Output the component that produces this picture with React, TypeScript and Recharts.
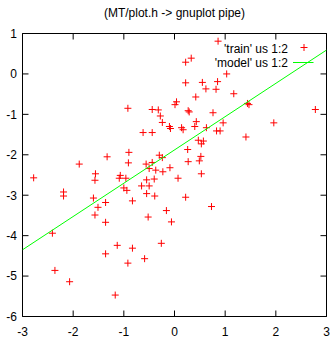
import { Label, Legend, Scatter, ScatterChart, XAxis, YAxis } from "recharts";

// points
const trainX = [
  0.86, 0.22, 0.33, 0.22, 0.55, 0.85, 1.03, 0.62, 0.82, 0.42,
  1.17, 0.04, 0.01, 0.27, 0.29, 0.76, 1.44, 1.47, 2.78, -0.92,
  -0.44, -0.32, -0.28, -0.24, -0.1, -0.08, 0.14, 0.17, 0.43, 0.4,
  0.63, 0.96, 0.83, 0.9, 1.96, -0.62, -0.44, 1.41, 0.47, 0.57,
  0.53, 0.26, 0.52, 0.49, 0.27, 0.53, 0.07, 0.22, 0.73, -0.16,
  -0.06, -0.26, -0.24, -0.3, -0.23, -0.09, -0.56, -0.44, -0.5, -0.37,
  -1.33, -0.9, -0.91, -1.88, -2.78, -1.56, -1.57, -1.07, -1.09, -0.96,
  -0.55, -0.4, -0.65, -0.5, -1.0, -0.94, -0.55, -0.39, -0.83, -1.36,
  -2.19, -2.19, -1.6, -1.51, -1.57, -1.36, -0.52, -2.41, -1.13, -0.83,
  -1.36, -0.59, -0.92, -2.36, -2.07, -1.17,
];
const trainY = [
  0.81, 0.29, 0.39, -0.22, -0.21, -0.19, 0.0, -0.37, -0.38, -0.57,
  -0.49, -0.69, -0.76, -0.91, -0.94, -0.96, -0.73, -0.76, -0.88, -0.85,
  -0.88, -0.89, -1.04, -1.2, -1.3, -1.35, -1.33, -1.38, -1.18, -1.3,
  -1.33, -1.21, -1.41, -1.41, -1.21, -1.45, -1.45, -1.56, -1.64, -1.66,
  -1.73, -1.87, -2.04, -2.15, -2.17, -2.47, -2.58, -3.05, -3.28, -3.38,
  -3.66, -4.19, -2.07, -2.01, -2.42, -2.32, -2.23, -2.19, -2.34, -2.38,
  -2.05, -1.94, -2.2, -2.23, -2.57, -2.47, -2.63, -2.51, -2.58, -2.58,
  -2.62, -2.6, -2.77, -2.77, -2.82, -2.88, -2.96, -3.02, -3.14, -3.18,
  -2.92, -3.02, -3.07, -3.3, -3.49, -3.67, -3.54, -3.94, -4.24, -4.31,
  -4.45, -4.57, -4.68, -4.86, -5.14, -5.47,
];
const modelX = [-3, 3];
const modelY = [-4.35, 0.59];

const xTicks = [-3, -2, -1, 0, 1, 2, 3];
const yTicks = [-6, -5, -4, -3, -2, -1, 0, 1];

const trainData = trainX.map((x, i) => ({ x, y: trainY[i] }));
const modelData = modelX.map((x, i) => ({ x, y: modelY[i] }));

const FONT = '"Liberation Sans", Arial, sans-serif';
const TICK = 6;

function BottomTick({ x, y, payload }: any) {
  return (
    <g>
      <line x1={x} y1={y} x2={x} y2={y - TICK} stroke="#000" />
      <text x={x} y={y + 19.3} textAnchor="middle" fontSize={12} fontFamily={FONT} fill="#000">
        {payload.value}
      </text>
    </g>
  );
}

function TopTick({ x, y }: any) {
  return <line x1={x} y1={y} x2={x} y2={y + TICK} stroke="#000" />;
}

function LeftTick({ x, y, payload }: any) {
  return (
    <g>
      <line x1={x} y1={y} x2={x + TICK} y2={y} stroke="#000" />
      <text x={x - 5.5} y={y + 4.3} textAnchor="end" fontSize={12} fontFamily={FONT} fill="#000">
        {payload.value}
      </text>
    </g>
  );
}

function RightTick({ x, y }: any) {
  return <line x1={x} y1={y} x2={x - TICK} y2={y} stroke="#000" />;
}

function Plus({ cx, cy }: any) {
  return <path d={`M${cx - 3.5},${cy}H${cx + 3.5}M${cx},${cy - 3.5}V${cy + 3.5}`} stroke="#ff0000" fill="none" />;
}

function Nothing() {
  return <g />;
}

function GnuplotKey() {
  return (
    <svg width={333} height={75} style={{ display: "block" }}>
      <text x={288} y={52.5} textAnchor="end" fontSize={12} fontFamily={FONT} fill="#000">
        'train' us 1:2
      </text>
      <path d="M300.5,47.5H307.5M304,44V51" stroke="#ff0000" />
      <text x={288} y={67} textAnchor="end" fontSize={12} fontFamily={FONT} fill="#000">
        'model' us 1:2
      </text>
      <line x1={293} y1={62.5} x2={313.5} y2={62.5} stroke="#00ff00" />
    </svg>
  );
}

export default function App() {
  return (
    <div style={{ position: "absolute", left: 0, top: 0, background: "#fff" }}>
      <ScatterChart width={333} height={339} margin={{ top: 32.5, right: 5.5, bottom: 0, left: 0 }}>
        <XAxis
          xAxisId="b"
          type="number"
          dataKey="x"
          domain={[-3, 3]}
          ticks={xTicks}
          interval={0}
          height={22.5}
          axisLine={{ stroke: "#000" }}
          tickLine={false}
          tickSize={0}
          tickMargin={0}
          tick={BottomTick}
          allowDataOverflow
        />
        <XAxis
          xAxisId="t"
          type="number"
          dataKey="x"
          orientation="top"
          domain={[-3, 3]}
          ticks={xTicks}
          interval={0}
          height={1}
          axisLine={{ stroke: "#000" }}
          tickLine={false}
          tickSize={0}
          tickMargin={0}
          tick={TopTick}
          allowDataOverflow
        >
          <Label
            value="(MT/plot.h -> gnuplot pipe)"
            position="top"
            offset={16}
            fontSize={12}
            fontFamily={FONT}
            fill="#000"
          />
        </XAxis>
        <YAxis
          yAxisId="l"
          type="number"
          dataKey="y"
          domain={[-6, 1]}
          ticks={yTicks}
          interval={0}
          width={22.5}
          axisLine={{ stroke: "#000" }}
          tickLine={false}
          tickSize={0}
          tickMargin={0}
          tick={LeftTick}
          allowDataOverflow
        />
        <YAxis
          yAxisId="r"
          type="number"
          dataKey="y"
          orientation="right"
          domain={[-6, 1]}
          ticks={yTicks}
          interval={0}
          width={1}
          axisLine={{ stroke: "#000" }}
          tickLine={false}
          tickSize={0}
          tickMargin={0}
          tick={RightTick}
          allowDataOverflow
        />
        <Scatter
          name="'train' us 1:2"
          data={trainData}
          xAxisId="b"
          yAxisId="l"
          shape={Plus}
          isAnimationActive={false}
        />
        <Scatter
          name="'model' us 1:2"
          data={modelData}
          xAxisId="t"
          yAxisId="r"
          line={{ stroke: "#00ff00", strokeWidth: 1 }}
          shape={Nothing}
          isAnimationActive={false}
        />
        <Legend
          layout="horizontal"
          verticalAlign="middle"
          align="center"
          wrapperStyle={{ top: 0, left: 0, width: 333, height: 75 }}
          content={GnuplotKey}
        />
      </ScatterChart>
    </div>
  );
}
